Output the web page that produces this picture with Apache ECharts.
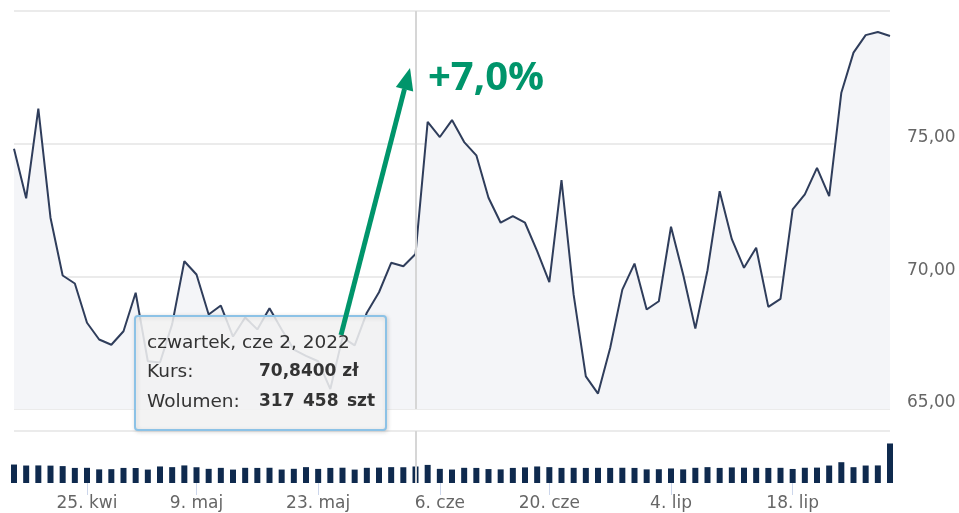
<!DOCTYPE html>
<html>
<head>
<meta charset="utf-8">
<script src="https://cdn.jsdelivr.net/npm/echarts/dist/echarts.min.js"></script>
<style>
  html, body { margin: 0; padding: 0; background: #fff; }
  #chart { width: 959px; height: 513px; }
</style>
</head>
<body>
<div id="chart"></div>
<script>
var myChart = echarts.init(document.getElementById('chart'));

// trading days (GPW), 13 kwi - 28 lip 2022
var dates = [
  '2022-04-13', '2022-04-14', '2022-04-19', '2022-04-20', '2022-04-21', '2022-04-22',
  '2022-04-25', '2022-04-26', '2022-04-27', '2022-04-28', '2022-04-29',
  '2022-05-02', '2022-05-04', '2022-05-05', '2022-05-06',
  '2022-05-09', '2022-05-10', '2022-05-11', '2022-05-12', '2022-05-13',
  '2022-05-16', '2022-05-17', '2022-05-18', '2022-05-19', '2022-05-20',
  '2022-05-23', '2022-05-24', '2022-05-25', '2022-05-26', '2022-05-27',
  '2022-05-30', '2022-05-31', '2022-06-01', '2022-06-02', '2022-06-03',
  '2022-06-06', '2022-06-07', '2022-06-08', '2022-06-09', '2022-06-10',
  '2022-06-13', '2022-06-14', '2022-06-15', '2022-06-17',
  '2022-06-20', '2022-06-21', '2022-06-22', '2022-06-23', '2022-06-24',
  '2022-06-27', '2022-06-28', '2022-06-29', '2022-06-30', '2022-07-01',
  '2022-07-04', '2022-07-05', '2022-07-06', '2022-07-07', '2022-07-08',
  '2022-07-11', '2022-07-12', '2022-07-13', '2022-07-14', '2022-07-15',
  '2022-07-18', '2022-07-19', '2022-07-20', '2022-07-21', '2022-07-22',
  '2022-07-25', '2022-07-26', '2022-07-27', '2022-07-28'
];

// kurs zamknięcia (zł)
var closes = [
  74.81, 72.94, 76.32, 72.21, 70.03, 69.73,
  68.25, 67.62, 67.42, 67.93, 69.38,
  66.80, 66.75, 68.20, 70.57,
  70.07, 68.56, 68.90, 67.73, 68.45,
  68.00, 68.80, 68.00, 67.24, 67.00,
  66.80, 65.75, 67.70, 67.40, 68.63,
  69.40, 70.51, 70.38, 70.84, 75.82,
  75.25, 75.89, 75.06, 74.56, 72.96,
  72.02, 72.27, 72.02, 70.95,
  69.78, 73.63, 69.30, 66.23, 65.58,
  67.30, 69.50, 70.48, 68.75, 69.06,
  71.87, 70.07, 68.03, 70.23, 73.21,
  71.40, 70.32, 71.08, 68.85, 69.15,
  72.52, 73.09, 74.09, 73.02, 76.92,
  78.43, 79.09, 79.21, 79.06
];

// wolumen (szt)
var volumes = [
  355000, 336000, 338000, 334000, 325000, 290000,
  292000, 262000, 266000, 290000, 288000,
  258000, 318000, 305000, 338000,
  303000, 272000, 291000, 258000, 292000,
  290000, 293000, 259000, 273000, 305000,
  271000, 290000, 294000, 258000, 292000,
  296000, 305000, 303000, 317458, 348000,
  272000, 259000, 292000, 290000, 268000,
  262000, 290000, 300000, 318000,
  305000, 290000, 292000, 290000, 292000,
  290000, 293000, 290000, 262000, 265000,
  280000, 262000, 292000, 305000, 290000,
  300000, 295000, 292000, 290000, 292000,
  270000, 293000, 296000, 336000, 400000,
  304000, 336000, 338000, 760000
];

var tickDates = ['2022-04-25', '2022-05-09', '2022-05-23', '2022-06-06', '2022-06-20', '2022-07-04', '2022-07-18'];
var priceMin = 65, priceMax = 80, priceStep = 5;
var volMax = 1000000;
var selectedIndex = 33;

var monthsPl = ['sty', 'lut', 'mar', 'kwi', 'maj', 'cze', 'lip', 'sie', 'wrz', 'paź', 'lis', 'gru'];
var daysPl = ['niedziela', 'poniedziałek', 'wtorek', 'środa', 'czwartek', 'piątek', 'sobota'];

var green = '#00956b';
var labelFont = 'DejaVu Sans';

function parts(s) {
  var p = s.split('-');
  return { y: +p[0], m: +p[1], d: +p[2], wd: new Date(+p[0], +p[1] - 1, +p[2]).getDay() };
}
function isTick(idx, val) { return tickDates.indexOf(val) >= 0; }
function fmtVol(v) { return String(v).replace(/\B(?=(\d{3})+(?!\d))/g, ' '); }

// tooltip box drawn on the canvas so the arrow can sit on top of it
var sel = parts(dates[selectedIndex]);
var tipTitle = daysPl[sel.wd] + ', ' + monthsPl[sel.m - 1] + ' ' + sel.d + ', ' + sel.y;
var tipKurs = closes[selectedIndex].toFixed(4).replace('.', ',') + ' zł';
var tipVol = fmtVol(volumes[selectedIndex]) + ' szt';
var regFont = '18.5px "DejaVu Sans"';
var boldFont = 'bold 17px "DejaVu Sans"';

var tooltipBox = {
  type: 'group', left: 134, top: 315, z: 50,
  children: [
    {
      type: 'rect', z: 50,
      shape: { x: 1, y: 1, width: 251, height: 114, r: 3 },
      style: {
        fill: 'rgba(247,247,247,0.85)', stroke: '#8cc2e6', lineWidth: 2,
        shadowBlur: 4, shadowOffsetX: 1, shadowOffsetY: 1, shadowColor: 'rgba(0,0,0,0.15)'
      }
    },
    { type: 'text', z: 51, x: 13, y: 28, style: { text: tipTitle, font: regFont, fill: '#333', verticalAlign: 'middle' } },
    { type: 'text', z: 51, x: 13, y: 57, style: { text: 'Kurs:', font: regFont, fill: '#333', verticalAlign: 'middle' } },
    { type: 'text', z: 51, x: 125, y: 57, style: { text: tipKurs, font: boldFont, fill: '#333', verticalAlign: 'middle' } },
    { type: 'text', z: 51, x: 13, y: 87, style: { text: 'Wolumen:', font: regFont, fill: '#333', verticalAlign: 'middle' } },
    { type: 'text', z: 51, x: 125, y: 87, style: { text: tipVol.replace(/ /g, '\u2002'), font: boldFont, fill: '#333', verticalAlign: 'middle' } }
  ]
};

option = {
  animation: false,
  backgroundColor: '#fff',
  grid: [
    { left: 14, right: 69, top: 11, height: 398 },
    { left: 14, right: 69, top: 431, height: 52 }
  ],
  axisPointer: { link: [{ xAxisIndex: 'all' }] },
  tooltip: {
    trigger: 'axis',
    triggerOn: 'none',
    alwaysShowContent: true,
    showContent: false,
    axisPointer: {
      type: 'line',
      lineStyle: { color: '#d6d6d6', width: 2, type: 'solid' },
      label: { show: false }
    }
  },
  xAxis: [
    {
      type: 'category', gridIndex: 0, data: dates, boundaryGap: false,
      axisLine: { show: false }, axisTick: { show: false }, axisLabel: { show: false }
    },
    {
      type: 'category', gridIndex: 1, data: dates, boundaryGap: false,
      axisLine: { show: false },
      axisTick: { interval: isTick, length: 12, lineStyle: { color: '#ccd6eb', width: 1 } },
      axisLabel: {
        interval: isTick, margin: 12, color: '#666', fontSize: 17, fontFamily: labelFont,
        formatter: function (val) { var p = parts(val); return p.d + '. ' + monthsPl[p.m - 1]; }
      }
    }
  ],
  yAxis: [
    {
      type: 'value', gridIndex: 0, position: 'right',
      min: priceMin, max: priceMax, interval: priceStep,
      axisLine: { show: false }, axisTick: { show: false },
      splitLine: { lineStyle: { color: '#ebebeb', width: 2 } },
      axisLabel: {
        margin: 17, color: '#666', fontSize: 17, fontFamily: labelFont,
        verticalAlign: 'bottom', lineHeight: 12, showMaxLabel: false,
        formatter: function (v) { return v.toFixed(2).replace('.', ','); }
      }
    },
    {
      type: 'value', gridIndex: 1, min: 0, max: volMax, interval: volMax,
      axisLine: { show: false }, axisTick: { show: false }, axisLabel: { show: false },
      splitLine: { lineStyle: { color: ['rgba(0,0,0,0)', '#ebebeb'], width: 2 } }
    }
  ],
  series: [
    {
      name: 'Kurs', type: 'line', xAxisIndex: 0, yAxisIndex: 0,
      data: closes, symbol: 'none',
      lineStyle: { color: '#2f3d5b', width: 2 },
      areaStyle: { color: '#f4f5f8', opacity: 1, origin: 'start' },
      emphasis: { disabled: true },
      z: 3
    },
    {
      name: 'Wolumen', type: 'bar', xAxisIndex: 1, yAxisIndex: 1,
      data: volumes, barWidth: 6,
      itemStyle: { color: '#0f2a4e' },
      emphasis: { disabled: true }
    }
  ],
  graphic: [
    tooltipBox,
    {
      type: 'line', z: 100,
      shape: { x1: 341, y1: 335, x2: 404.5, y2: 89 },
      style: { stroke: green, lineWidth: 5 }
    },
    {
      type: 'polygon', z: 100,
      shape: { points: [[410, 68], [413.2, 91.5], [395.8, 87.1]] },
      style: { fill: green }
    },
    {
      type: 'text', z: 100, left: 428, top: 59,
      style: { text: '+7,0%', fill: green, font: 'bold 40px "Open Sans"' }
    }
  ]
};

myChart.setOption(option);
myChart.dispatchAction({ type: 'showTip', seriesIndex: 0, dataIndex: selectedIndex });
</script>
</body>
</html>
